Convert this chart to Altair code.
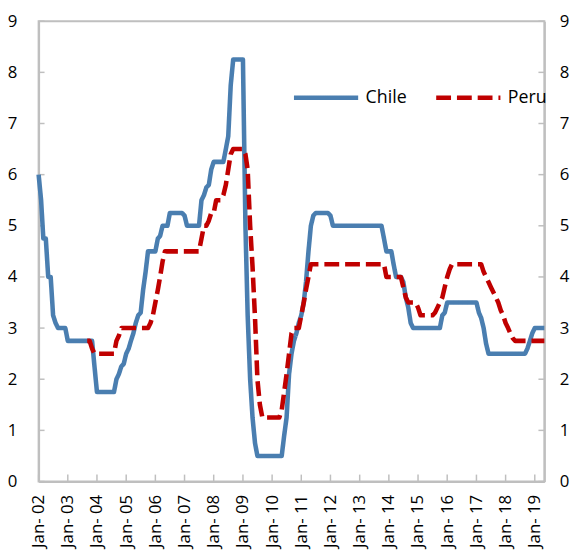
import altair as alt
import pandas as pd

# Monthly policy rates (%), Jan-2002 .. May-2019
chile = [
    6.0, 5.5, 4.75, 4.75, 4.0, 4.0, 3.25, 3.1, 3.0, 3.0, 3.0, 3.0,          # 2002
    2.75, 2.75, 2.75, 2.75, 2.75, 2.75, 2.75, 2.75, 2.75, 2.75, 2.75, 2.25, # 2003
    1.75, 1.75, 1.75, 1.75, 1.75, 1.75, 1.75, 1.75, 2.0, 2.1, 2.25, 2.3,    # 2004
    2.5, 2.6, 2.75, 2.9, 3.1, 3.25, 3.3, 3.75, 4.1, 4.5, 4.5, 4.5,          # 2005
    4.5, 4.75, 4.8, 5.0, 5.0, 5.0, 5.25, 5.25, 5.25, 5.25, 5.25, 5.25,      # 2006
    5.2, 5.0, 5.0, 5.0, 5.0, 5.0, 5.0, 5.5, 5.6, 5.75, 5.8, 6.1,            # 2007
    6.25, 6.25, 6.25, 6.25, 6.25, 6.5, 6.75, 7.75, 8.25, 8.25, 8.25, 8.25,  # 2008
    8.25, 5.0, 3.25, 2.0, 1.25, 0.75, 0.5, 0.5, 0.5, 0.5, 0.5, 0.5,        # 2009
    0.5, 0.5, 0.5, 0.5, 0.5, 0.9, 1.25, 2.1, 2.5, 2.75, 2.9, 3.1,          # 2010
    3.25, 3.5, 3.9, 4.5, 5.0, 5.2, 5.25, 5.25, 5.25, 5.25, 5.25, 5.25,      # 2011
    5.2, 5.0, 5.0, 5.0, 5.0, 5.0, 5.0, 5.0, 5.0, 5.0, 5.0, 5.0,             # 2012
    5.0, 5.0, 5.0, 5.0, 5.0, 5.0, 5.0, 5.0, 5.0, 5.0, 4.75, 4.5,            # 2013
    4.5, 4.5, 4.25, 4.0, 4.0, 4.0, 3.9, 3.6, 3.4, 3.1, 3.0, 3.0,            # 2014
    3.0, 3.0, 3.0, 3.0, 3.0, 3.0, 3.0, 3.0, 3.0, 3.0, 3.25, 3.3,            # 2015
    3.5, 3.5, 3.5, 3.5, 3.5, 3.5, 3.5, 3.5, 3.5, 3.5, 3.5, 3.5,             # 2016
    3.5, 3.3, 3.2, 3.0, 2.7, 2.5, 2.5, 2.5, 2.5, 2.5, 2.5, 2.5,             # 2017
    2.5, 2.5, 2.5, 2.5, 2.5, 2.5, 2.5, 2.5, 2.5, 2.6, 2.75, 2.9,            # 2018
    3.0, 3.0, 3.0, 3.0, 3.0,                                                # 2019
]
peru = [
    None, None, None, None, None, None, None, None, None, None, None, None, # 2002
    None, None, None, None, None, None, None, None, 2.75, 2.75, 2.6, 2.5,   # 2003
    2.5, 2.5, 2.5, 2.5, 2.5, 2.5, 2.5, 2.5, 2.75, 2.85, 3.0, 3.0,           # 2004
    3.0, 3.0, 3.0, 3.0, 3.0, 3.0, 3.0, 3.0, 3.0, 3.0, 3.1, 3.25,            # 2005
    3.5, 3.75, 4.0, 4.3, 4.5, 4.5, 4.5, 4.5, 4.5, 4.5, 4.5, 4.5,            # 2006
    4.5, 4.5, 4.5, 4.5, 4.5, 4.5, 4.5, 4.75, 5.0, 5.0, 5.1, 5.25,           # 2007
    5.25, 5.5, 5.5, 5.5, 5.6, 5.8, 6.1, 6.4, 6.5, 6.5, 6.5, 6.5,            # 2008
    6.5, 6.4, 6.1, 5.0, 4.2, 3.2, 2.0, 1.5, 1.25, 1.25, 1.25, 1.25,         # 2009
    1.25, 1.25, 1.25, 1.25, 1.4, 1.75, 2.1, 2.5, 2.9, 3.0, 3.0, 3.0,        # 2010
    3.25, 3.5, 3.75, 4.0, 4.25, 4.25, 4.25, 4.25, 4.25, 4.25, 4.25, 4.25,   # 2011
    4.25, 4.25, 4.25, 4.25, 4.25, 4.25, 4.25, 4.25, 4.25, 4.25, 4.25, 4.25, # 2012
    4.25, 4.25, 4.25, 4.25, 4.25, 4.25, 4.25, 4.25, 4.25, 4.25, 4.25, 4.0,  # 2013
    4.0, 4.0, 4.0, 4.0, 4.0, 4.0, 3.8, 3.6, 3.5, 3.5, 3.5, 3.5,             # 2014
    3.4, 3.25, 3.25, 3.25, 3.25, 3.25, 3.25, 3.3, 3.4, 3.5, 3.6, 3.8,       # 2015
    4.0, 4.15, 4.25, 4.25, 4.25, 4.25, 4.25, 4.25, 4.25, 4.25, 4.25, 4.25,  # 2016
    4.25, 4.25, 4.25, 4.1, 4.0, 3.9, 3.8, 3.7, 3.6, 3.5, 3.35, 3.25,        # 2017
    3.1, 3.0, 2.9, 2.8, 2.75, 2.75, 2.75, 2.75, 2.75, 2.75, 2.75, 2.75,     # 2018
    2.75, 2.75, 2.75, 2.75, 2.75,                                           # 2019
]
series_names = ["Chile", "Peru"]
y_ticks = [0, 1, 2, 3, 4, 5, 6, 7, 8, 9]
tick_years = list(range(2002, 2020))

BLUE = "#4A7EB0"
RED = "#C00000"
GREY = "#BFBFBF"
FONT = "Open Sans"
W, H = 512, 466

months = pd.date_range("2002-01-01", periods=len(chile), freq="MS")
rows = []
for d, c, p in zip(months, chile, peru):
    rows.append({"date": d, "series": "Chile", "rate": c})
    if p is not None:
        rows.append({"date": d, "series": "Peru", "rate": p})
df = pd.DataFrame(rows)
ticks_df = pd.DataFrame({"date": pd.to_datetime([f"{y}-01-01" for y in tick_years])})
yt_df = pd.DataFrame({"v": y_ticks})

xscale = alt.Scale(domain=[alt.DateTime(year=2002, month=1, date=1),
                           alt.DateTime(year=2019, month=5, date=1)])
yscale = alt.Scale(domain=[0, 9], nice=False, zero=False)

xaxis = alt.Axis(values=[alt.DateTime(year=y, month=1, date=1) for y in tick_years],
                 format="%b- %y", labelAngle=270, labelAlign="right",
                 labelBaseline="middle", labelPadding=13, labelOverlap=False,
                 labelBound=False, labelFlush=False)

legend = alt.Legend(orient="none", legendX=256, legendY=42, direction="horizontal",
                    title=None)

lines = alt.Chart(df).mark_line(strokeWidth=4.6, strokeJoin="round").encode(
    x=alt.X("date:T", scale=xscale, title=None, axis=xaxis),
    y=alt.Y("rate:Q", scale=yscale, title=None,
            axis=alt.Axis(orient="left", values=y_ticks, labelPadding=22)),
    color=alt.Color("series:N", scale=alt.Scale(domain=series_names, range=[BLUE, RED]),
                    legend=legend),
    strokeDash=alt.StrokeDash("series:N",
                              scale=alt.Scale(domain=series_names, range=[[1, 0], [15, 6]]),
                              legend=legend),
)

xticks = alt.Chart(ticks_df).mark_rule(color=GREY, strokeWidth=1.5).encode(
    x=alt.X("date:T", scale=xscale, title=None, axis=xaxis),
    y=alt.value(H - 7), y2=alt.value(H),
)
yticks_left = alt.Chart(yt_df).mark_rule(color=GREY, strokeWidth=1.5).encode(
    y=alt.Y("v:Q", scale=yscale, axis=None),
    x=alt.value(0), x2=alt.value(6),
)
yticks_right = alt.Chart(yt_df).mark_rule(color=GREY, strokeWidth=1.5).encode(
    y=alt.Y("v:Q", scale=yscale, title=None,
            axis=alt.Axis(orient="right", values=y_ticks, labelPadding=15)),
    x=alt.value(W - 6), x2=alt.value(W),
)

chart = alt.layer(xticks, yticks_left, yticks_right, lines).resolve_scale(
    y="independent"
).resolve_axis(y="independent").properties(
    width=W, height=H,
    autosize=alt.AutoSizeParams(type="none"),
    padding={"left": 31, "top": 10, "right": 30, "bottom": 70},
).configure_view(
    stroke=GREY, strokeWidth=2
).configure_axis(
    domainColor=GREY, domainWidth=2, ticks=False, grid=False,
    labelFont=FONT, labelFontSize=17, labelColor="#000000",
).configure_legend(
    labelFont=FONT, labelFontSize=18, labelColor="#000000",
    symbolType="stroke", symbolSize=4225, symbolStrokeWidth=4.6,
    labelOffset=5, columnPadding=20, padding=0,
)

chart.save("out.html", embed_options={"renderer": "svg", "actions": False})
